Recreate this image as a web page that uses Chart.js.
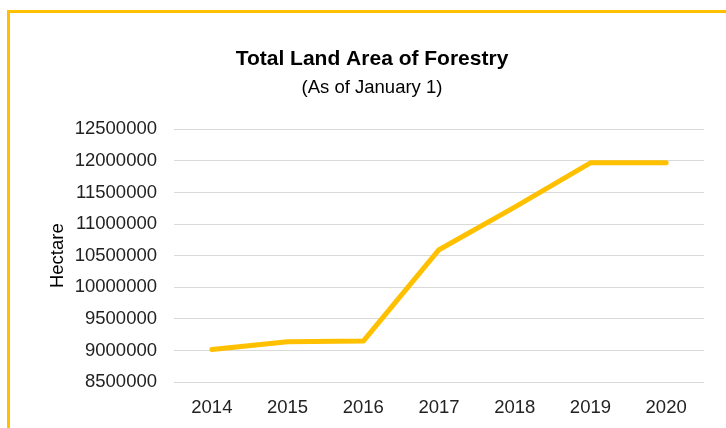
<!DOCTYPE html>
<html>
<head>
<meta charset="utf-8">
<script src="https://cdn.jsdelivr.net/npm/chart.js@4"></script>
<style>
    html, body { margin: 0; padding: 0; background: #fff; overflow: hidden; }
    #wrap { position: relative; width: 726px; height: 428px; }
    #frame { position: absolute; left: 7px; top: 10px; width: 760px; height: 460px; border: 3px solid #FFC000; box-sizing: border-box; }
    canvas { position: absolute; left: 0; top: 0; }
</style>
</head>
<body>
<div id="wrap">
    <div id="frame"></div>
    <canvas id="chart" width="726" height="428"></canvas>
</div>
<script>
const years = ['2014', '2015', '2016', '2017', '2018', '2019', '2020'];
const landArea = [9015000, 9137000, 9148000, 10595000, 11270000, 11970000, 11970000];

const ctx = document.getElementById('chart');

new Chart(ctx, {
    type: 'line',
    data: {
        labels: years,
        datasets: [
            {
                label: 'Total Land Area of Forestry',
                data: landArea,
                borderColor: '#FFC000',
                backgroundColor: '#FFC000',
                borderWidth: 5,
                borderCapStyle: 'round',
                borderJoinStyle: 'round',
                tension: 0,
                fill: false,
                pointRadius: 0,
                pointHoverRadius: 0
            }
        ]
    },
    options: {
        responsive: false,
        animation: false,
        layout: {
            padding: { left: 40, right: 22, top: 0, bottom: 0 }
        },
        plugins: {
            legend: { display: false },
            tooltip: { enabled: false },
            title: {
                display: true,
                text: 'Total Land Area of Forestry',
                color: '#000',
                font: { family: 'Liberation Sans', size: 21, weight: 'bold' },
                padding: { top: 47, bottom: 5 }
            },
            subtitle: {
                display: true,
                text: '(As of January 1)',
                color: '#000',
                font: { family: 'Liberation Sans', size: 18.5 },
                padding: { top: 0, bottom: 30 }
            }
        },
        scales: {
            x: {
                offset: true,
                border: { display: false },
                grid: { display: false, drawTicks: false },
                ticks: {
                    color: '#222',
                    padding: 15,
                    maxRotation: 0,
                    font: { family: 'Liberation Sans', size: 18.5 }
                },
                afterFit: (scale) => { scale.height = 46; }
            },
            y: {
                min: 8500000,
                max: 12500000,
                border: { display: false },
                grid: { color: '#d9d9d9', lineWidth: 1, drawTicks: false },
                ticks: {
                    stepSize: 500000,
                    color: '#222',
                    padding: 17,
                    font: { family: 'Liberation Sans', size: 18.5 },
                    callback: (v) => String(v)
                },
                title: {
                    display: true,
                    text: 'Hectare',
                    color: '#000',
                    font: { family: 'Liberation Sans', size: 18.5 },
                    padding: { top: 7, bottom: 0 }
                },
                afterFit: (scale) => { scale.width = 134; }
            }
        }
    }
});
</script>
</body>
</html>
